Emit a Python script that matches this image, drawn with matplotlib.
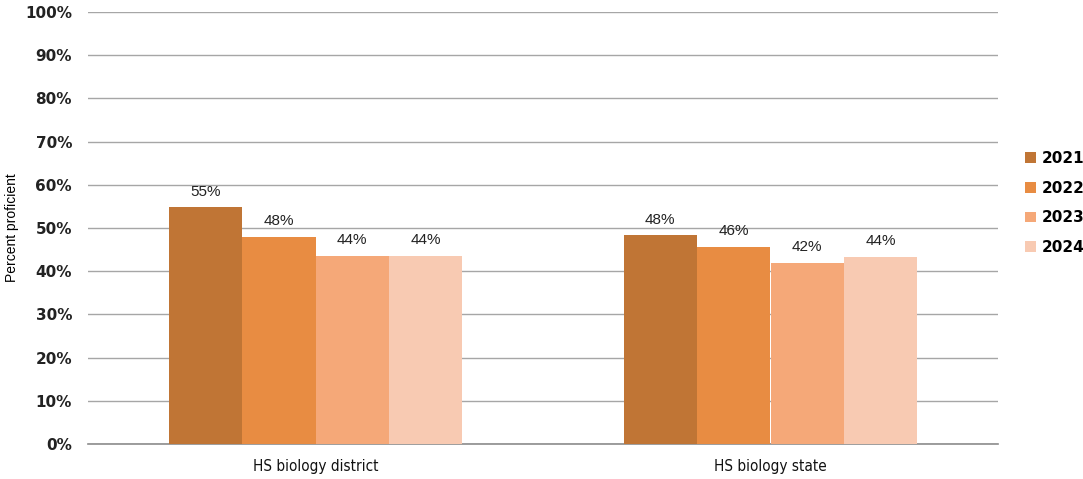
import matplotlib
matplotlib.use("Agg")
import matplotlib.pyplot as plt
import numpy as np

categories = ["HS biology district", "HS biology state"]
years = ["2021", "2022", "2023", "2024"]
values = {
    "2021": [54.8, 48.3],
    "2022": [48.0, 45.6],
    "2023": [43.6, 41.9],
    "2024": [43.6, 43.4],
}
labels = {
    "2021": ["55%", "48%"],
    "2022": ["48%", "46%"],
    "2023": ["44%", "42%"],
    "2024": ["44%", "44%"],
}
colors = ["#C07535", "#E88C42", "#F5A878", "#F8CAB2"]

fig = plt.figure(figsize=(10.83, 4.79), dpi=100)
ax = fig.add_axes([88/1083, 1-444/479, 910/1083, 432/479])

x = np.arange(len(categories))
w = 0.1615
for i, yr in enumerate(years):
    pos = x + (i - 1.5) * w
    ax.bar(pos, values[yr], width=w, color=colors[i], label=yr, zorder=3)
    for p, v, lab in zip(pos, values[yr], labels[yr]):
        ax.text(p, v + 2.0, lab, ha="center", va="bottom", fontsize=11,
                family="Liberation Sans", color="#222222", zorder=4)

ax.set_xlim(-0.5, 1.5)
ax.set_ylim(0, 100)
ax.set_yticks(np.arange(0, 101, 10))
ax.set_yticklabels([f"{t}%" for t in range(0, 101, 10)], fontsize=11,
                   fontweight="bold", family="DejaVu Sans", color="#222222")
ax.set_xticks(x)
ax.set_xticklabels(categories, fontsize=11, family="DejaVu Sans",
                   fontstretch="condensed", color="#111111")
ax.tick_params(axis="both", length=0)
ax.tick_params(axis="y", pad=11.5)
ax.tick_params(axis="x", pad=11)
ax.grid(axis="y", color="#A6A6A6", linewidth=1, zorder=0)
for s in ["top", "right", "left"]:
    ax.spines[s].set_visible(False)
ax.spines["bottom"].set_color("#8C8C8C")
ax.spines["bottom"].set_linewidth(1.2)
ax.set_ylabel("Percent proficient", fontsize=10, family="Liberation Sans")
ax.yaxis.set_label_coords(-69/910, 0.5)

ax.legend(loc="center left", bbox_to_anchor=(1.015, 0.558), frameon=False,
          prop={"size": 11, "weight": "bold", "family": "DejaVu Sans"},
          handlelength=0.7, handleheight=0.7, handletextpad=0.4, labelspacing=0.95)

fig.savefig("out.png", dpi=100)
